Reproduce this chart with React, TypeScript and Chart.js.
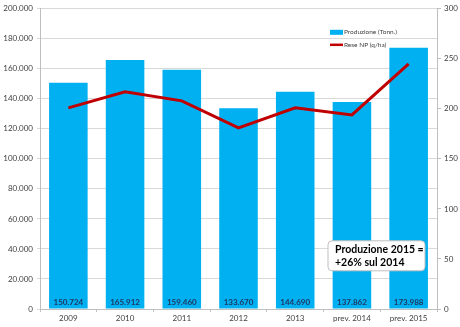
import React, { useEffect, useRef } from "react";
import { Chart, registerables } from "chart.js";

Chart.register(...registerables);

const categories = ["2009", "2010", "2011", "2012", "2013", "prev. 2014", "prev. 2015"];
const produzione = [150724, 165912, 159460, 133670, 144690, 137862, 173988];
const rese = [201, 217, 208, 181, 201, 194, 245];
const legendLabels = ["Produzione (Tonn.)", "Rese NP (q/ha)"];
const noteLines = ["Produzione 2015 =", "+26% sul 2014"];

const BAR_COLOR = "#00B0F0";
const LINE_COLOR = "#C00000";
const FONT = "Lato, 'Open Sans', sans-serif";

function fmt(v: number): string {
  const s = Math.round(v).toString();
  return s.replace(/\B(?=(\d{3})+(?!\d))/g, ".");
}

export default function App() {
  const ref = useRef<HTMLCanvasElement | null>(null);

  useEffect(() => {
    document.body.style.margin = "0";
    const canvas = ref.current;
    if (!canvas) return;

    const extras = {
      id: "extras",
      afterDatasetsDraw(chart: any) {
        const ctx = chart.ctx;
        const meta = chart.getDatasetMeta(0);
        const ca = chart.chartArea;
        ctx.save();
        ctx.font = "bold 8px " + FONT;
        ctx.fillStyle = "#1F3864";
        ctx.textAlign = "center";
        ctx.textBaseline = "middle";
        meta.data.forEach((el: any, i: number) => {
          ctx.fillText(fmt(produzione[i]), el.x, ca.bottom - 7);
        });
        ctx.restore();
      },
      afterDraw(chart: any) {
        const ctx = chart.ctx;
        const ca = chart.chartArea;
        ctx.save();
        // legend
        const lx = ca.right - 107;
        const ly = ca.top + 23;
        ctx.fillStyle = BAR_COLOR;
        ctx.fillRect(lx, ly - 2, 13, 5);
        ctx.strokeStyle = LINE_COLOR;
        ctx.lineWidth = 2.5;
        ctx.beginPath();
        ctx.moveTo(lx, ly + 13);
        ctx.lineTo(lx + 13, ly + 13);
        ctx.stroke();
        ctx.fillStyle = "#404040";
        ctx.font = "6.5px " + FONT;
        ctx.textAlign = "left";
        ctx.textBaseline = "middle";
        ctx.fillText(legendLabels[0], lx + 14, ly);
        ctx.fillText(legendLabels[1], lx + 14, ly + 13);
        // note box
        const bx = ca.left + 288;
        const by = ca.top + 232;
        const bw = 97;
        const bh = 30;
        ctx.beginPath();
        (ctx as any).roundRect(bx, by, bw, bh, 4);
        ctx.fillStyle = "#ffffff";
        ctx.fill();
        ctx.strokeStyle = "#BFBFBF";
        ctx.lineWidth = 1;
        ctx.stroke();
        ctx.fillStyle = "#000000";
        ctx.font = "bold 10.5px " + FONT;
        ctx.fillText(noteLines[0], bx + 7, by + 9);
        ctx.fillText(noteLines[1], bx + 7, by + 22);
        ctx.restore();
      },
    };

    const chart = new Chart(canvas, {
      type: "bar",
      data: {
        labels: categories,
        datasets: [
          {
            type: "line",
            label: legendLabels[1],
            data: rese,
            yAxisID: "y1",
            borderColor: LINE_COLOR,
            backgroundColor: LINE_COLOR,
            borderWidth: 3,
            pointRadius: 0,
            tension: 0,
            order: 0,
          } as any,
          {
            type: "bar",
            label: legendLabels[0],
            data: produzione,
            yAxisID: "y",
            backgroundColor: BAR_COLOR,
            categoryPercentage: 0.68,
            barPercentage: 1,
            order: 1,
          },
        ],
      },
      options: {
        animation: false,
        responsive: false,
        maintainAspectRatio: false,
        layout: { padding: { top: 5, left: 0, right: 0, bottom: 0 } },
        plugins: { legend: { display: false }, tooltip: { enabled: false } },
        scales: {
          x: {
            grid: {
              display: true,
              drawOnChartArea: false,
              drawTicks: true,
              tickLength: 3,
              color: "#BFBFBF",
              offset: true,
            },
            border: { color: "#BFBFBF" },
            ticks: { color: "#404040", font: { size: 8, family: FONT }, padding: 2 },
            afterFit(s: any) {
              s.height = 18;
            },
          },
          y: {
            position: "left",
            min: 0,
            max: 200000,
            ticks: {
              stepSize: 20000,
              color: "#404040",
              font: { size: 8, family: FONT },
              padding: 4,
              callback: (v: any) => fmt(Number(v)),
            },
            grid: { color: "#D9D9D9", tickLength: 3 },
            border: { color: "#BFBFBF" },
            afterFit(s: any) {
              s.width = 40;
            },
          },
          y1: {
            position: "right",
            min: 0,
            max: 300,
            ticks: {
              stepSize: 50,
              color: "#404040",
              font: { size: 8, family: FONT },
              padding: 3,
            },
            grid: { drawOnChartArea: false, color: "#BFBFBF", tickLength: 4 },
            border: { color: "#BFBFBF" },
            afterFit(s: any) {
              s.width = 23;
            },
          },
        },
      },
      plugins: [extras],
    });

    return () => chart.destroy();
  }, []);

  return (
    <div style={{ width: 460, height: 327, background: "#fff" }}>
      <canvas ref={ref} width={460} height={327} style={{ display: "block" }} />
    </div>
  );
}
